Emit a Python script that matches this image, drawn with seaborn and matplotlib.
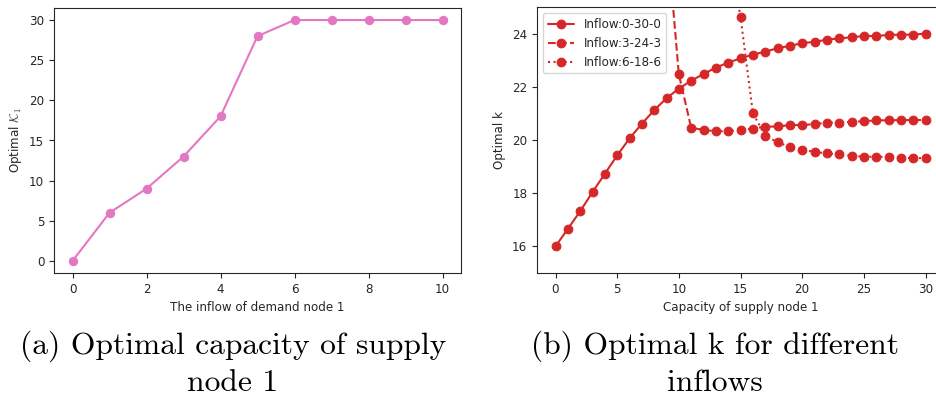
import matplotlib
matplotlib.use("Agg")
import matplotlib.pyplot as plt
import seaborn as sns

sns.set_style("ticks")
plt.rcParams["font.family"] = ["DejaVu Sans"]
plt.rcParams["mathtext.fontset"] = "cm"

# Panel (a): optimal capacity of supply node 1 vs inflow of demand node 1
inflow = [0, 1, 2, 3, 4, 5, 6, 7, 8, 9, 10]
opt_capacity = [0, 6, 9, 13, 18, 28, 30, 30, 30, 30, 30]

# Panel (b): optimal k vs capacity of supply node 1 for three inflow patterns
capacity = list(range(31))
k_0_30_0 = [16.00, 16.66, 17.32, 18.04, 18.73, 19.42, 20.06, 20.61, 21.12, 21.57,
            21.93, 22.23, 22.48, 22.72, 22.91, 23.07, 23.21, 23.32, 23.45, 23.54,
            23.64, 23.69, 23.77, 23.82, 23.86, 23.91, 23.91, 23.95, 23.96, 23.96,
            24.00]
k_3_24_3 = [45.0, 42.0, 40.0, 38.0, 36.0, 34.0, 32.0, 30.5, 29.2, 27.9,
            22.47, 20.46, 20.38, 20.33, 20.33, 20.38, 20.43, 20.50, 20.51, 20.56,
            20.56, 20.60, 20.65, 20.65, 20.69, 20.70, 20.74, 20.74, 20.75, 20.75,
            20.75]
k_6_18_6 = [60.0, 57.0, 54.0, 51.0, 48.0, 45.0, 42.0, 40.0, 38.0, 36.0,
            34.0, 32.0, 30.0, 28.5, 27.2, 24.64, 21.02, 20.15, 19.92, 19.74,
            19.64, 19.55, 19.50, 19.46, 19.41, 19.37, 19.37, 19.36, 19.32, 19.32,
            19.32]
series_labels = ["Inflow:0-30-0", "Inflow:3-24-3", "Inflow:6-18-6"]
series_styles = ["-", "--", ":"]

pink = "#e377c2"
red = "#d62728"
small = 8.6

W, H = 936, 403
fig = plt.figure(figsize=(W / 100, H / 100), dpi=100)

ax1 = fig.add_axes([54 / W, 1 - 273 / H, (461 - 54) / W, (273 - 8) / H])
ax2 = fig.add_axes([537 / W, 1 - 273 / H, (944 - 537) / W, (273 - 7) / H])

sns.lineplot(x=inflow, y=opt_capacity, ax=ax1, color=pink, marker="o",
             markersize=6, markeredgecolor=pink, linewidth=1.5)
ax1.set_xticks([0, 2, 4, 6, 8, 10])
ax1.set_yticks([0, 5, 10, 15, 20, 25, 30])
ax1.set_xlabel("The inflow of demand node 1", fontsize=small)
ax1.set_ylabel(r"Optimal $\mathcal{K}_1$", fontsize=small)

for vals, lab, ls in zip([k_0_30_0, k_3_24_3, k_6_18_6], series_labels, series_styles):
    sns.lineplot(x=capacity, y=vals, ax=ax2, color=red, marker="o", markersize=6.3,
                 markeredgecolor=red, linewidth=1.5, linestyle=ls, label=lab)
ax2.set_ylim(15, 25)
ax2.set_xlim(-1.5, 31.5)
ax2.set_xticks([0, 5, 10, 15, 20, 25, 30])
ax2.set_yticks([16, 18, 20, 22, 24])
ax2.set_xlabel("Capacity of supply node 1", fontsize=small)
ax2.set_ylabel("Optimal k", fontsize=small)
ax2.legend(loc="upper left", fontsize=small, handlelength=2.2)

for ax in (ax1, ax2):
    ax.tick_params(labelsize=small, length=3.5, width=0.8)
    for s in ax.spines.values():
        s.set_linewidth(0.8)

cap_kw = dict(ha="center", va="top", family="cmr10", fontsize=22.7,
              linespacing=1.35, color="black")
fig.text(233 / W, 1 - 331 / H, "(a) Optimal capacity of supply\nnode 1", **cap_kw)
fig.text(715 / W, 1 - 331 / H, "(b) Optimal k for different\ninflows", **cap_kw)

fig.savefig("out.png", dpi=100)
